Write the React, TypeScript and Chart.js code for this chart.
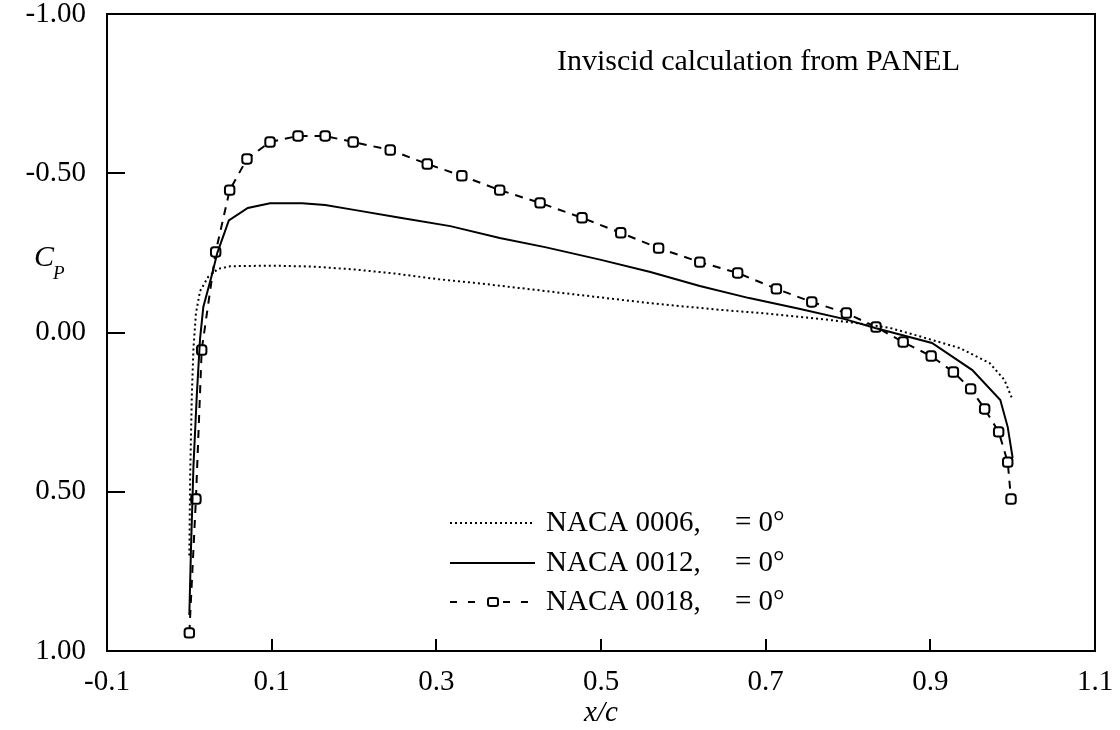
import React, { useEffect, useRef } from "react";
import { Chart, registerables } from "chart.js";

Chart.register(...registerables);

// ---- data ----
const x0006 = [0.0, 0.001, 0.003, 0.005, 0.008, 0.013, 0.023, 0.035, 0.05, 0.1, 0.15, 0.2, 0.25, 0.3, 0.35, 0.4, 0.45, 0.5, 0.55, 0.6, 0.65, 0.7, 0.75, 0.8, 0.85, 0.887, 0.936, 0.972, 0.99, 1.0];
const cp0006 = [0.7, 0.45, 0.2, 0.05, -0.06, -0.13, -0.175, -0.2, -0.208, -0.21, -0.207, -0.198, -0.185, -0.168, -0.155, -0.14, -0.125, -0.11, -0.095, -0.082, -0.07, -0.06, -0.047, -0.033, -0.015, 0.012, 0.049, 0.096, 0.149, 0.212];

const x0012 = [0.0, 0.002, 0.005, 0.009, 0.013, 0.017, 0.028, 0.034, 0.048, 0.071, 0.098, 0.137, 0.165, 0.2, 0.256, 0.317, 0.377, 0.432, 0.5, 0.56, 0.62, 0.68, 0.742, 0.796, 0.833, 0.902, 0.951, 0.985, 0.994, 1.0];
const cp0012 = [0.887, 0.68, 0.42, 0.2, 0.02, -0.08, -0.187, -0.25, -0.352, -0.391, -0.406, -0.406, -0.4, -0.385, -0.36, -0.334, -0.297, -0.268, -0.228, -0.19, -0.146, -0.108, -0.074, -0.042, -0.014, 0.033, 0.118, 0.212, 0.297, 0.394];

const x0018 = [0.0, 0.008, 0.015, 0.032, 0.049, 0.07, 0.098, 0.132, 0.165, 0.199, 0.244, 0.289, 0.331, 0.377, 0.426, 0.477, 0.524, 0.57, 0.62, 0.666, 0.713, 0.756, 0.798, 0.834, 0.867, 0.901, 0.928, 0.949, 0.966, 0.983, 0.994, 0.998];
const cp0018 = [0.943, 0.523, 0.055, -0.253, -0.447, -0.545, -0.598, -0.617, -0.617, -0.598, -0.573, -0.529, -0.492, -0.447, -0.407, -0.36, -0.313, -0.265, -0.221, -0.187, -0.137, -0.096, -0.061, -0.017, 0.03, 0.074, 0.124, 0.177, 0.24, 0.312, 0.407, 0.523];

const xTickValues = [-0.1, 0.1, 0.3, 0.5, 0.7, 0.9, 1.1];
const yTickValues = [-1.0, -0.5, 0.0, 0.5, 1.0];
const legendNames = ["NACA 0006,", "NACA 0012,", "NACA 0018,"];
const legendSuffix = "= 0°";
const annotationText = "Inviscid calculation from PANEL";
const xTitle = "x/c";
const yTitleMain = "C";
const yTitleSub = "P";

const FONT = '"Liberation Serif", "Times New Roman", serif';

const toPts = (xs: number[], ys: number[]) => xs.map((x, i) => ({ x, y: ys[i] }));

const overlay = {
  id: "overlay",
  afterDraw(chart: any) {
    const ctx = chart.ctx as CanvasRenderingContext2D;
    const { left, right, top, bottom } = chart.chartArea;
    const xs = chart.scales.x;
    const ys = chart.scales.y;
    ctx.save();
    ctx.strokeStyle = "#000";
    ctx.fillStyle = "#000";
    ctx.lineWidth = 2;
    ctx.setLineDash([]);
    ctx.strokeRect(left, top, right - left, bottom - top);
    // inside ticks
    ctx.beginPath();
    yTickValues.forEach((v) => {
      const y = Math.round(ys.getPixelForValue(v));
      ctx.moveTo(left, y);
      ctx.lineTo(left + 18, y);
    });
    xTickValues.forEach((v) => {
      const x = Math.round(xs.getPixelForValue(v));
      ctx.moveTo(x, bottom);
      ctx.lineTo(x, bottom - 12);
    });
    ctx.stroke();

    // annotation
    ctx.font = `30px ${FONT}`;
    ctx.textAlign = "left";
    ctx.textBaseline = "alphabetic";
    ctx.fillText(annotationText, 557, 70);

    // axis titles
    ctx.font = `italic 29px ${FONT}`;
    ctx.textAlign = "center";
    ctx.fillText(xTitle, (left + right) / 2, 721);
    ctx.textAlign = "left";
    ctx.font = `italic 30px ${FONT}`;
    ctx.fillText(yTitleMain, 34, 266);
    ctx.font = `italic 19px ${FONT}`;
    ctx.fillText(yTitleSub, 53, 279);

    // legend
    const rows = [523, 563, 602];
    const x1 = 450, x2 = 535;
    ctx.lineWidth = 2;
    // dotted
    ctx.beginPath();
    ctx.setLineDash([2, 3]);
    ctx.moveTo(x1, rows[0]);
    ctx.lineTo(x2, rows[0]);
    ctx.stroke();
    // solid
    ctx.beginPath();
    ctx.setLineDash([]);
    ctx.moveTo(x1, rows[1]);
    ctx.lineTo(x2, rows[1]);
    ctx.stroke();
    // dashed with marker
    ctx.beginPath();
    ctx.setLineDash([7, 11]);
    ctx.moveTo(x1, rows[2]);
    ctx.lineTo(485, rows[2]);
    ctx.moveTo(503, rows[2]);
    ctx.lineTo(x2, rows[2]);
    ctx.stroke();
    ctx.setLineDash([]);
    ctx.fillStyle = "#fff";
    ctx.beginPath();
    ctx.roundRect(488, rows[2] - 4, 10, 8, 2);
    ctx.fill();
    ctx.stroke();
    ctx.fillStyle = "#000";
    ctx.font = `29px ${FONT}`;
    ctx.textBaseline = "middle";
    legendNames.forEach((name, i) => {
      ctx.fillText(name, 546, rows[i]);
      ctx.fillText(legendSuffix, 735, rows[i]);
    });
    ctx.restore();
  },
};

export default function App() {
  const ref = useRef<HTMLCanvasElement | null>(null);
  useEffect(() => {
    if (!ref.current) return;
    const chart = new Chart(ref.current, {
      type: "scatter",
      data: {
        datasets: [
          {
            label: legendNames[0],
            data: toPts(x0006, cp0006),
            showLine: true,
            borderColor: "#000",
            borderWidth: 2,
            borderDash: [2, 3],
            pointRadius: 0,
            tension: 0,
          },
          {
            label: legendNames[1],
            data: toPts(x0012, cp0012),
            showLine: true,
            borderColor: "#000",
            borderWidth: 2,
            pointRadius: 0,
            tension: 0,
          },
          {
            label: legendNames[2],
            data: toPts(x0018, cp0018),
            showLine: true,
            borderColor: "#000",
            borderWidth: 2,
            borderDash: [8, 7],
            pointStyle: "rectRounded",
            pointRadius: 5.5,
            pointBorderWidth: 2,
            pointBorderColor: "#000",
            pointBackgroundColor: "#fff",
            tension: 0,
          },
        ],
      },
      options: {
        animation: false,
        responsive: true,
        maintainAspectRatio: false,
        layout: { padding: { left: 0, right: 25, top: 14, bottom: 0 } },
        plugins: { legend: { display: false }, tooltip: { enabled: false } },
        scales: {
          x: {
            type: "linear",
            min: -0.1,
            max: 1.1,
            afterBuildTicks: (s: any) => {
              s.ticks = xTickValues.map((v) => ({ value: v }));
            },
            ticks: {
              autoSkip: false,
              maxRotation: 0,
              color: "#000",
              padding: 14,
              font: { family: FONT, size: 29 },
              callback: (v: any) => Number(v).toFixed(1),
            },
            grid: { display: false, drawTicks: false },
            border: { display: false },
            afterFit: (s: any) => {
              s.height = 79;
              s.paddingLeft = 0;
              s.paddingRight = 0;
            },
          },
          y: {
            type: "linear",
            min: -1,
            max: 1,
            reverse: true,
            afterBuildTicks: (s: any) => {
              s.ticks = yTickValues.map((v) => ({ value: v }));
            },
            ticks: {
              autoSkip: false,
              color: "#000",
              padding: 21,
              font: { family: FONT, size: 29 },
              callback: (v: any) => Number(v).toFixed(2),
            },
            grid: { display: false, drawTicks: false },
            border: { display: false },
            afterFit: (s: any) => {
              s.width = 107;
              s.paddingTop = 0;
              s.paddingBottom = 0;
            },
          },
        },
      },
      plugins: [overlay],
    });
    return () => chart.destroy();
  }, []);
  return (
    <div style={{ position: "fixed", left: 0, top: 0, width: 1120, height: 730, background: "#fff" }}>
      <canvas ref={ref} />
    </div>
  );
}
